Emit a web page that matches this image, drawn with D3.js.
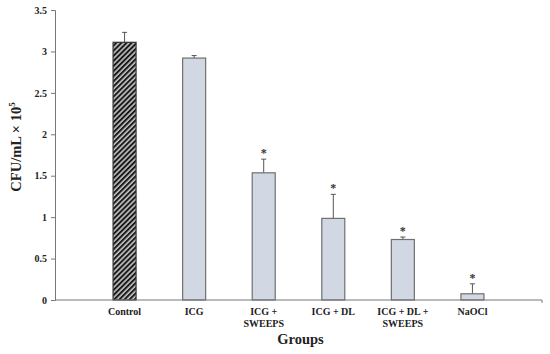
<!DOCTYPE html>
<html>
<head>
<meta charset="utf-8">
<script src="https://d3js.org/d3.v7.min.js"></script>
<style>
  body { margin: 0; background: #fff; }
  text { font-family: "Liberation Serif", "Times New Roman", serif; font-weight: bold; }
</style>
</head>
<body>
<svg id="chart" width="550" height="354"></svg>
<script>
const groups = ["Control", "ICG", "ICG + SWEEPS", "ICG + DL", "ICG + DL + SWEEPS", "NaOCl"];
const groupLines = [["Control"], ["ICG"], ["ICG +", "SWEEPS"], ["ICG + DL"], ["ICG + DL +", "SWEEPS"], ["NaOCl"]];
const means = [3.11, 2.92, 1.535, 0.985, 0.73, 0.075];
const errors = [0.12, 0.03, 0.165, 0.29, 0.03, 0.12];
const starred = [false, false, true, true, true, true];
const yTicks = [0, 0.5, 1, 1.5, 2, 2.5, 3, 3.5];

const svg = d3.select("#chart");
const plotLeft = 55, plotRight = 542, plotTop = 10, plotBottom = 300;

const x = d3.scaleLinear().domain([0, groups.length + 1]).range([plotLeft, plotRight]);
const y = d3.scaleLinear().domain([0, 3.5]).range([plotBottom, plotTop]);
const barW = 23;

const defs = svg.append("defs");
const pat = defs.append("pattern").attr("id", "hatch")
  .attr("patternUnits", "userSpaceOnUse").attr("width", 3.6).attr("height", 3.6)
  .attr("patternTransform", "rotate(45)");
pat.append("rect").attr("width", 3.6).attr("height", 3.6).attr("fill", "#c4c4c4");
pat.append("rect").attr("width", 2).attr("height", 3.6).attr("fill", "#1a1a1a");

// error bars (drawn first so bar top covers line start)
groups.forEach((g, i) => {
  const cx = x(i + 1);
  svg.append("line").attr("x1", cx).attr("x2", cx)
    .attr("y1", y(means[i])).attr("y2", y(means[i] + errors[i]))
    .attr("stroke", "#555").attr("stroke-width", 1);
  svg.append("line").attr("x1", cx - 2.5).attr("x2", cx + 2.5)
    .attr("y1", y(means[i] + errors[i])).attr("y2", y(means[i] + errors[i]))
    .attr("stroke", "#555").attr("stroke-width", 1);
});

svg.selectAll(".bar").data(groups).enter().append("rect")
  .attr("class", "bar")
  .attr("x", (d, i) => x(i + 1) - barW / 2)
  .attr("width", barW)
  .attr("y", (d, i) => y(means[i]))
  .attr("height", (d, i) => y(0) - y(means[i]))
  .attr("fill", (d, i) => i === 0 ? "url(#hatch)" : "#d2d8e3")
  .attr("stroke", (d, i) => i === 0 ? "#333" : "#6f6f6f")
  .attr("stroke-width", 1.2);

groups.forEach((g, i) => {
  if (!starred[i]) return;
  svg.append("text").attr("x", x(i + 1)).attr("y", y(means[i] + errors[i]) - 2)
    .attr("text-anchor", "middle").attr("font-size", 12).attr("fill", "#333").text("*");
});

// y axis
const yAxis = svg.append("g").attr("transform", `translate(${plotLeft},0)`)
  .call(d3.axisLeft(y).tickValues(yTicks).tickSize(4).tickFormat(d3.format("")));
yAxis.select(".domain").attr("stroke", "#777");
yAxis.selectAll(".tick line").attr("stroke", "#777");
yAxis.selectAll(".tick text").attr("font-size", 10).attr("fill", "#222")
  .attr("font-family", "Liberation Serif, serif").attr("font-weight", "bold").attr("x", -8);

// x axis
svg.append("line").attr("x1", plotLeft).attr("x2", plotRight).attr("y1", plotBottom).attr("y2", plotBottom)
  .attr("stroke", "#777");
svg.append("line").attr("x1", plotRight).attr("x2", plotRight).attr("y1", plotBottom).attr("y2", plotBottom + 3)
  .attr("stroke", "#777");

groupLines.forEach((lines, i) => {
  const t = svg.append("text").attr("x", x(i + 1)).attr("y", 315)
    .attr("text-anchor", "middle").attr("font-size", 10).attr("fill", "#222");
  lines.forEach((l, j) => t.append("tspan").attr("x", x(i + 1)).attr("dy", j === 0 ? 0 : 12).text(l));
});

svg.append("text").attr("x", (plotLeft + plotRight) / 2 + 2).attr("y", 344)
  .attr("text-anchor", "middle").attr("font-size", 14.5).attr("fill", "#222").text("Groups");

const yl = svg.append("text").attr("transform", "translate(21,147) rotate(-90)")
  .attr("text-anchor", "middle").attr("font-size", 14.5).attr("fill", "#222");
yl.append("tspan").text("CFU/mL × 10");
yl.append("tspan").attr("font-size", 9).attr("dy", -6).text("5");
</script>
</body>
</html>
